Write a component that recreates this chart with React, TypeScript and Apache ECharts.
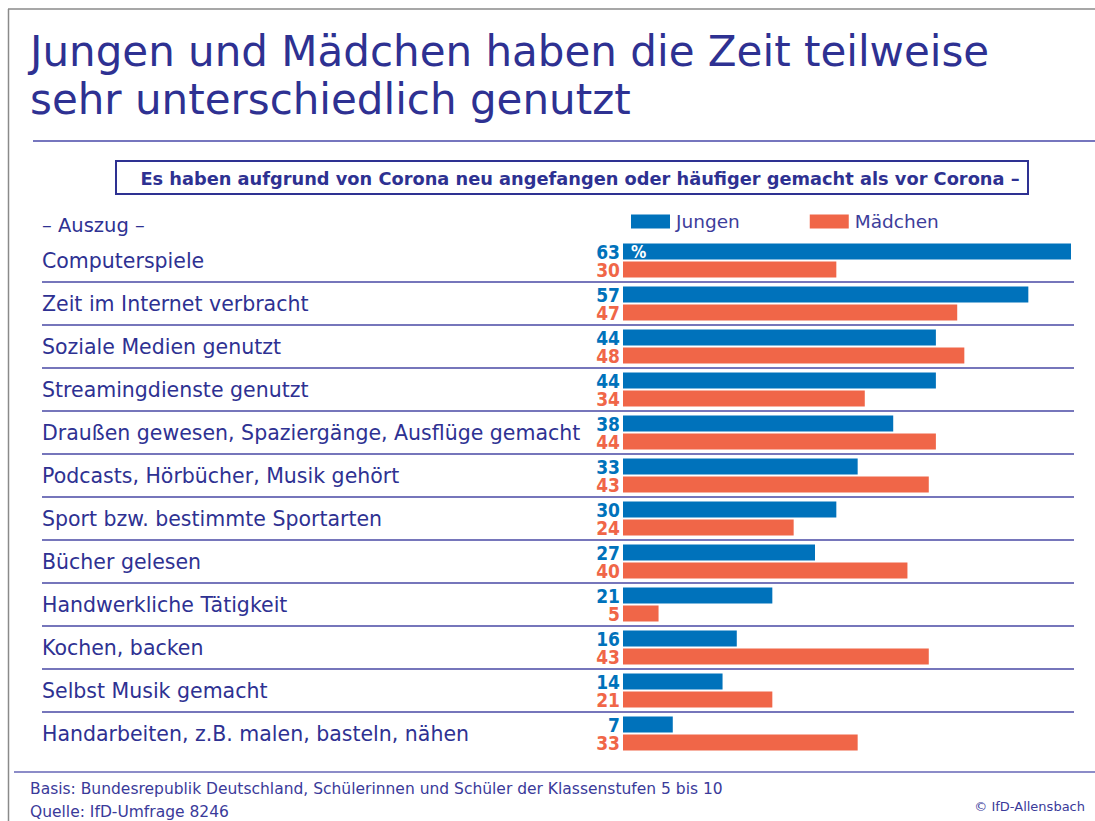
import React, { useEffect, useRef } from "react";
import * as echarts from "echarts";

const categories = [
  "Computerspiele",
  "Zeit im Internet verbracht",
  "Soziale Medien genutzt",
  "Streamingdienste genutzt",
  "Draußen gewesen, Spaziergänge, Ausflüge gemacht",
  "Podcasts, Hörbücher, Musik gehört",
  "Sport bzw. bestimmte Sportarten",
  "Bücher gelesen",
  "Handwerkliche Tätigkeit",
  "Kochen, backen",
  "Selbst Musik gemacht",
  "Handarbeiten, z.B. malen, basteln, nähen",
];
const jungen = [63, 57, 44, 44, 38, 33, 30, 27, 21, 16, 14, 7];
const maedchen = [30, 47, 48, 34, 44, 43, 24, 40, 5, 43, 21, 33];

const titleLines = ["Jungen und Mädchen haben die Zeit teilweise", "sehr unterschiedlich genutzt"];
const subtitle = "Es haben aufgrund von Corona neu angefangen oder häufiger gemacht als vor Corona –";
const excerpt = "– Auszug –";
const footBasis = "Basis: Bundesrepublik Deutschland, Schülerinnen und Schüler der Klassenstufen 5 bis 10";
const footSource = "Quelle: IfD-Umfrage 8246";
const copyright = "© IfD-Allensbach";

const BLUE = "#0072bb";
const ORANGE = "#f06648";
const NAVY = "#2e3192";
const FONT = "DejaVu Sans";

export default function App() {
  const ref = useRef<HTMLDivElement>(null);
  useEffect(() => {
    if (!ref.current) return;
    const chart = echarts.init(ref.current, null, { renderer: "svg" });
    const gridLeft = 623;
    const gridTop = 239;
    const bandH = 43;
    const gridW = 448;
    const n = categories.length;

    const separators = [];
    for (let i = 1; i < n; i++) {
      const y = gridTop + bandH * i;
      separators.push({
        type: "line",
        shape: { x1: 42, y1: y, x2: 1074, y2: y },
        style: { stroke: "#4848a4", lineWidth: 1.5 },
        silent: true,
      });
    }

    const valueLabel = (color: string) => ({
      show: true,
      position: "left",
      distance: 3,
      color,
      fontFamily: "DejaVu Sans Condensed",
      fontWeight: "bold",
      fontSize: 19,
      lineHeight: 17,
    });

    chart.setOption({
      animation: false,
      backgroundColor: "#ffffff",
      grid: { left: gridLeft, top: gridTop, width: gridW, height: bandH * n, containLabel: false },
      xAxis: {
        type: "value",
        min: 0,
        max: 63,
        show: false,
      },
      yAxis: {
        type: "category",
        data: categories,
        inverse: true,
        axisLine: { show: false },
        axisTick: { show: false },
        splitLine: { show: false },
        axisLabel: {
          align: "left",
          margin: gridLeft - 42,
          color: NAVY,
          fontFamily: FONT,
          fontSize: 20.5,
        },
      },
      legend: {
        left: 626,
        top: 207,
        itemWidth: 39,
        itemHeight: 14,
        itemGap: 70,
        icon: "rect",
        textStyle: { color: "#3d3d9b", fontFamily: FONT, fontSize: 18.5, padding: [0, 0, 0, 1] },
        data: ["Jungen", "Mädchen"],
      },
      series: [
        {
          name: "Jungen",
          type: "bar",
          data: jungen,
          barWidth: 16,
          barGap: "12.5%",
          itemStyle: { color: BLUE },
          label: valueLabel(BLUE),
        },
        {
          name: "Mädchen",
          type: "bar",
          data: maedchen,
          barWidth: 16,
          itemStyle: { color: ORANGE },
          label: valueLabel(ORANGE),
        },
      ],
      graphic: [
        { type: "line", shape: { x1: 8, y1: 9, x2: 1095, y2: 9 }, style: { stroke: "#8a8a8a", lineWidth: 1.5 } },
        { type: "line", shape: { x1: 8.5, y1: 9, x2: 8.5, y2: 821 }, style: { stroke: "#8a8a8a", lineWidth: 1.5 } },
        {
          type: "text",
          left: 30,
          top: 30,
          style: { text: titleLines[0], fill: NAVY, font: `42px '${FONT}'` },
        },
        {
          type: "text",
          left: 30,
          top: 78,
          style: { text: titleLines[1], fill: NAVY, font: `42px '${FONT}'` },
        },
        { type: "line", shape: { x1: 33, y1: 141, x2: 1095, y2: 141 }, style: { stroke: "#4848a8", lineWidth: 1.5 } },
        {
          type: "rect",
          shape: { x: 116, y: 161, width: 912, height: 33 },
          style: { fill: "#fff", stroke: NAVY, lineWidth: 2 },
        },
        {
          type: "text",
          x: 580,
          y: 178,
          style: {
            text: subtitle,
            fill: NAVY,
            font: `bold 17.8px '${FONT}'`,
            align: "center",
            verticalAlign: "middle",
          },
        },
        {
          type: "text",
          x: 42,
          y: 225,
          style: { text: excerpt, fill: NAVY, font: `19.5px '${FONT}'`, verticalAlign: "middle" },
        },
        ...separators,
        {
          type: "text",
          x: gridLeft + 8,
          y: gridTop + bandH / 2 - 9,
          style: {
            text: "%",
            fill: "#ffffff",
            font: `bold 17px 'DejaVu Sans Condensed'`,
            verticalAlign: "middle",
          },
          z: 100,
        },
        { type: "line", shape: { x1: 14, y1: 772, x2: 1095, y2: 772 }, style: { stroke: "#8c8cc8", lineWidth: 2 } },
        {
          type: "text",
          x: 30,
          y: 789,
          style: { text: footBasis, fill: "#3a3a9a", font: `15.5px '${FONT}'`, verticalAlign: "middle" },
        },
        {
          type: "text",
          x: 30,
          y: 812,
          style: { text: footSource, fill: "#3a3a9a", font: `15.5px '${FONT}'`, verticalAlign: "middle" },
        },
        {
          type: "text",
          x: 1085,
          y: 806,
          style: { text: copyright, fill: "#3a3a9a", font: `13px '${FONT}'`, align: "right", verticalAlign: "middle" },
        },
      ],
    });
    return () => chart.dispose();
  }, []);
  return (
    <div
      ref={ref}
      style={{ position: "fixed", left: 0, top: 0, width: 1095, height: 821, background: "#fff" }}
    />
  );
}
